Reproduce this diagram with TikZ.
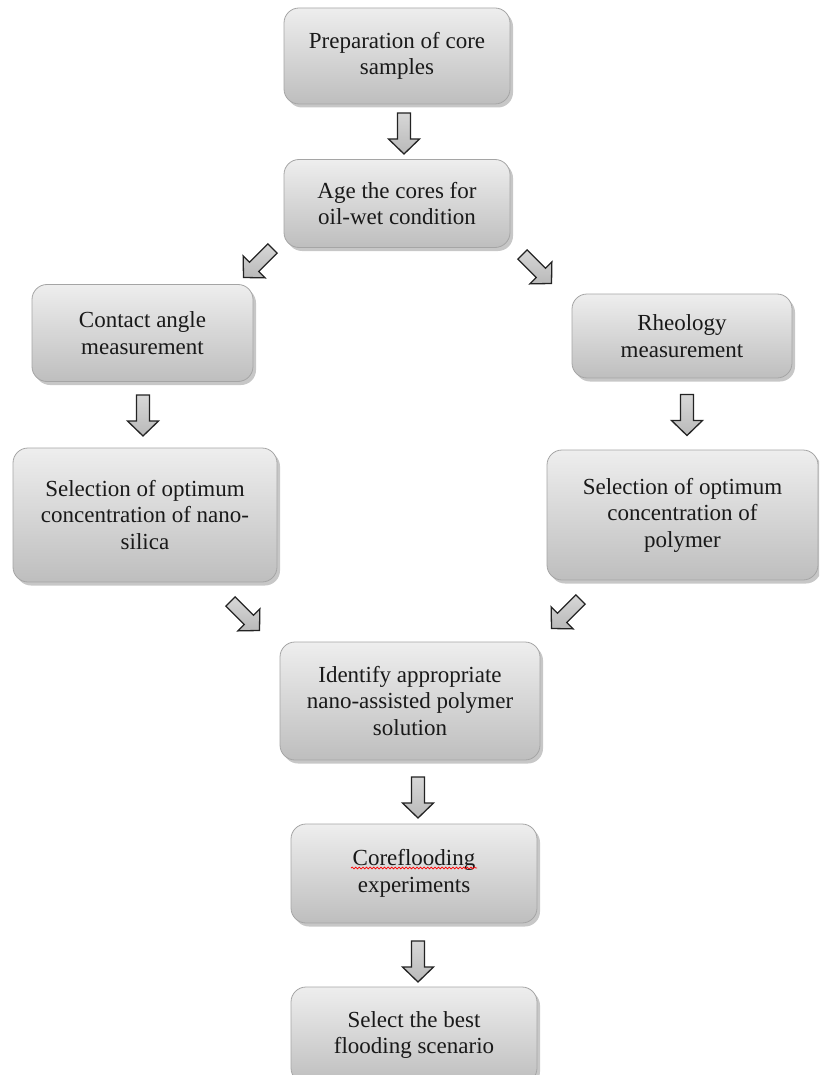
\documentclass[tikz,border=0pt]{standalone}
\usepackage{fontspec}
\setmainfont{Liberation Serif}
\usetikzlibrary{shadows,decorations.pathmorphing}
\definecolor{boxtop}{RGB}{238,238,238}
\definecolor{boxbot}{RGB}{190,190,190}
\definecolor{boxline}{RGB}{165,165,165}
\definecolor{arrtop}{RGB}{215,215,215}
\definecolor{arrbot}{RGB}{185,185,185}
\definecolor{arrline}{RGB}{35,35,35}
\definecolor{txt}{RGB}{25,25,25}
\begin{document}
\begin{tikzpicture}[x=1pt,y=-1pt,
  box/.style={rounded corners=15pt, draw=boxline, line width=0.8pt,
    top color=boxtop, bottom color=boxbot, align=center, text=txt,
    font=\fontsize{23}{26.5}\selectfont, inner sep=0pt,
    drop shadow={shadow xshift=3pt, shadow yshift=-3.5pt, fill=black, opacity=0.22}},
  barrowstyle/.style={draw=arrline, line width=1.3pt, top color=arrtop, bottom color=arrbot, line join=miter},
  barrow/.pic={\path[barrowstyle] (-6.5,-20.5) -- (6.5,-20.5) -- (6.5,5.5) -- (15.5,5.5)
     -- (0,20.5) -- (-15.5,5.5) -- (-6.5,5.5) -- cycle;}
]
\useasboundingbox (0,0) rectangle (819,1075);
\clip (0,0) rectangle (819,1075);

\node[box, minimum width=226pt, minimum height=96pt] (prep) at (397,56) {Preparation of core\\samples};
\node[box, minimum width=226pt, minimum height=88pt] (age) at (397,203.5) {Age the cores for\\oil-wet condition};
\node[box, minimum width=221pt, minimum height=97pt] (contact) at (142.5,333) {Contact angle\\measurement};
\node[box, minimum width=220pt, minimum height=84pt] (rheo) at (682,336) {Rheology\\measurement};
\node[box, minimum width=264pt, minimum height=134pt] (silica) at (145,515) {Selection of optimum\\concentration of nano-\\silica};
\node[box, minimum width=271pt, minimum height=130pt] (polymer) at (682.5,515) {Selection of optimum\\concentration of\\polymer};
\node[box, minimum width=260pt, minimum height=118pt] (identify) at (410,701) {Identify appropriate\\nano-assisted polymer\\solution};
\node[box, minimum width=246pt, minimum height=99pt] (core) at (414,873.5) {Coreflooding\\experiments};
\node[box, minimum width=246pt, minimum height=96pt] (best) at (414,1035) {Select the best\\flooding scenario};

\draw[red, line width=0.7pt, decorate, decoration={snake, amplitude=0.9pt, segment length=3.6pt}]
  (351,868) -- (477,868);

\pic at (404,133.5) {barrow};
\pic[rotate=-45] at (258,263) {barrow};
\pic[rotate=45] at (537,269) {barrow};
\pic at (143,415.5) {barrow};
\pic at (687,415) {barrow};
\pic[rotate=45] at (245,616) {barrow};
\pic[rotate=-45] at (566,614) {barrow};
\pic at (418,797.5) {barrow};
\pic at (418,961.5) {barrow};
\end{tikzpicture}
\end{document}
